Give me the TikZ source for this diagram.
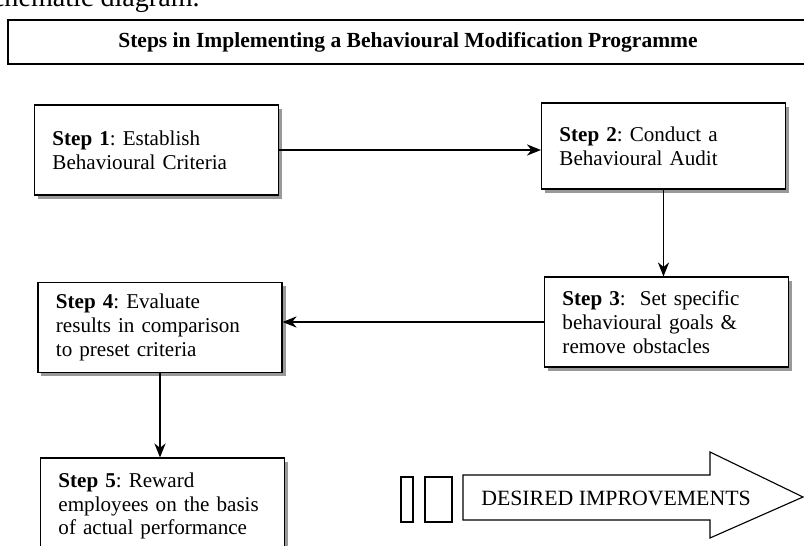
\documentclass[tikz,border=0pt]{standalone}
\usepackage{fontspec}
\setmainfont{Liberation Serif}
\frenchspacing
\usetikzlibrary{positioning,arrows.meta,shadows}

\begin{document}
\begin{tikzpicture}[x=0.025cm,y=-0.025cm,
  stepbox/.style={draw, thick, fill=white, drop shadow={shadow xshift=2.5pt, shadow yshift=-2.5pt, fill=gray!80, opacity=1}, text width=5.2cm, inner xsep=0.45cm, minimum height=2.25cm, align=left, font=\fontsize{15}{17}\selectfont},
  flow/.style={-{Stealth[length=10pt,width=8pt]}, thick}]
\useasboundingbox (0,0) rectangle (804,546);
\node[anchor=base east, inner sep=0pt, font=\fontsize{20}{24}\selectfont] (head) at (200,7) {schematic diagram.};
\draw[thick] (8,20) rectangle (830,64);
\node[font=\fontsize{15.3}{18}\selectfont\bfseries] (title) at (408,42) {Steps in Implementing a Behavioural Modification Programme};
\node[stepbox] (s1) at (156.5,150) {\textbf{Step 1}: Establish\\ Behavioural Criteria};
\node[stepbox, minimum height=2.15cm] (s2) at (663.5,146) {\textbf{Step 2}: Conduct a\\ Behavioural Audit};
\node[stepbox] (s3) at (666.5,322) {\textbf{Step 3}:~ Set specific\\ behavioural goals \&\\ remove obstacles};
\node[stepbox] (s4) at (160,327.5) {\textbf{Step 4}: Evaluate\\ results in comparison\\ to preset criteria};
\node[stepbox, minimum height=2.4cm] (s5) at (162.5,506) {\textbf{Step 5}: Reward\\ employees on the basis\\ of actual performance};
\draw[flow] (s1.east) -- (s1.east -| s2.west);
\draw[flow] (s2.south) -- (s2.south |- s3.north);
\draw[flow] (s3.west) -- (s3.west -| s4.east);
\draw[flow] (s4.south) -- (s4.south |- s5.north);
\draw[thick] (401,477) rectangle (413,522);
\draw[thick] (425,477) rectangle (452,522);
\draw[thick, fill=white] (463,475) -- (710,475) -- (710,452) -- (803,497) -- (710,538) -- (710,520) -- (463,520) -- cycle;
\node[font=\fontsize{15.5}{18}\selectfont] (gain) at (616,498) {DESIRED IMPROVEMENTS};
\end{tikzpicture}
\end{document}
